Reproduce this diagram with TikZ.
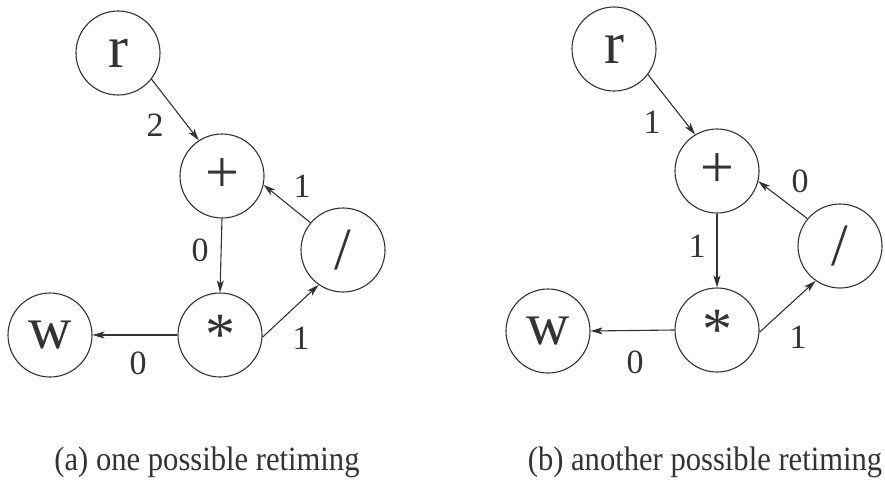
\documentclass[tikz,border=0pt]{standalone}
\usepackage{fontspec}
\setmainfont{Liberation Serif}
\usetikzlibrary{arrows.meta}
\definecolor{ink}{HTML}{333333}
\newcommand{\narrowcap}[1]{\scalebox{0.9}[1]{#1}}
\begin{document}
\begin{tikzpicture}[x=1pt,y=-1pt,
 vert/.style={circle,draw=ink,line width=1.1pt,minimum size=84pt,inner sep=0pt,text=ink,font=\fontsize{60}{60}\selectfont},
 edge/.style={draw=ink,line width=1.1pt,-{Stealth[length=12pt,width=7pt,inset=3pt]}},
 wlab/.style={text=ink,inner sep=0pt,font=\fontsize{34}{34}\selectfont},
 captext/.style={text=ink,inner sep=0pt,anchor=base,font=\fontsize{34}{34}\selectfont}]
\useasboundingbox (0,0) rectangle (885,479);
% ---- (a) ----
\node[vert] (ra) at (118,53) {r};
\node[vert] (pa) at (222,176) {+};
\node[vert] (da) at (343,250) {/};
\node[vert] (sa) at (220,335) {*};
\node[vert] (wa) at (50,335) {w};
\draw[edge] (ra.-38) -- (pa.123);
\draw[edge] (pa.south) -- (sa.north);
\draw[edge] (da.140) -- (pa.-12);
\draw[edge] (sa.-3) -- (da.235);
\draw[edge] (sa.west) -- (wa.east);
\node[wlab] (la1) at (155,125) {2};
\node[wlab] (la2) at (302,186) {1};
\node[wlab] (la3) at (200,250) {0};
\node[wlab] (la4) at (301,338) {1};
\node[wlab] (la5) at (138,363) {0};
\node[captext] (capa) at (207,470) {\narrowcap{(a) one possible retiming}};
% ---- (b) ----
\node[vert] (rb) at (614,49) {r};
\node[vert] (pb) at (717,171) {+};
\node[vert] (db) at (840,246) {/};
\node[vert] (sb) at (717,330) {*};
\node[vert] (wb) at (548,331) {w};
\draw[edge] (rb.-37) -- (pb.121);
\draw[edge] (pb.south) -- (sb.north);
\draw[edge] (db.140) -- (pb.-14);
\draw[edge] (sb.-3) -- (db.235);
\draw[edge] (sb.west) -- (wb.east);
\node[wlab] (lb1) at (652,122) {1};
\node[wlab] (lb2) at (800,181) {0};
\node[wlab] (lb3) at (697,246) {1};
\node[wlab] (lb4) at (798,337) {1};
\node[wlab] (lb5) at (635,362) {0};
\node[captext] (capb) at (705,470) {\narrowcap{(b) another possible retiming}};
\end{tikzpicture}
\end{document}
